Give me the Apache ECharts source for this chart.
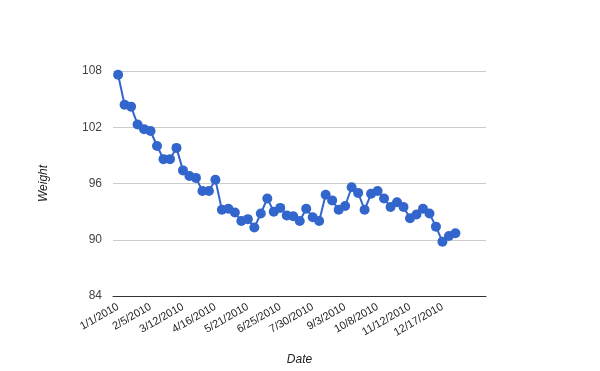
<!DOCTYPE html>
<html>
<head>
<meta charset="utf-8">
<script src="https://cdn.jsdelivr.net/npm/echarts@6/dist/echarts.min.js"></script>
<style>html,body{margin:0;padding:0;background:#fff}#c{width:600px;height:371px}</style>
</head>
<body>
<div id="c"></div>
<script>
var dates = ["1/1/2010","1/8/2010","1/15/2010","1/22/2010","1/29/2010","2/5/2010","2/12/2010","2/19/2010","2/26/2010","3/5/2010","3/12/2010","3/19/2010","3/26/2010","4/2/2010","4/9/2010","4/16/2010","4/23/2010","4/30/2010","5/7/2010","5/14/2010","5/21/2010","5/28/2010","6/4/2010","6/11/2010","6/18/2010","6/25/2010","7/2/2010","7/9/2010","7/16/2010","7/23/2010","7/30/2010","8/6/2010","8/13/2010","8/20/2010","8/27/2010","9/3/2010","9/10/2010","9/17/2010","9/24/2010","10/1/2010","10/8/2010","10/15/2010","10/22/2010","10/29/2010","11/5/2010","11/12/2010","11/19/2010","11/26/2010","12/3/2010","12/10/2010","12/17/2010","12/24/2010","12/31/2010"];
var weights = [107.6,104.4,104.2,102.3,101.8,101.6,100.0,98.6,98.6,99.8,97.4,96.8,96.6,95.2,95.2,96.4,93.2,93.3,92.9,92.0,92.2,91.3,92.8,94.4,93.0,93.4,92.6,92.5,92.0,93.3,92.4,92.0,94.8,94.2,93.2,93.6,95.6,95.0,93.2,94.9,95.2,94.4,93.5,94.0,93.5,92.3,92.7,93.3,92.8,91.4,89.8,90.4,90.7];
var xTickLabels = ["1/1/2010","2/5/2010","3/12/2010","4/16/2010","5/21/2010","6/25/2010","7/30/2010","9/3/2010","10/8/2010","11/12/2010","12/17/2010"];
var yTicks = [84,90,96,102,108];

var base = Date.UTC(2010,0,1);
function dayOf(s){var p=s.split('/');return (Date.UTC(+p[2],+p[0]-1,+p[1])-base)/86400000;}
function fmt(v){var d=new Date(base+Math.round(v)*86400000);return (d.getUTCMonth()+1)+'/'+d.getUTCDate()+'/'+d.getUTCFullYear();}
var seriesData = dates.map(function(d,i){return [dayOf(d), weights[i]];});
var chart = echarts.init(document.getElementById('c'));
chart.setOption({
  animation:false,
  grid:{left:113,right:114,top:71,bottom:70,containLabel:false},
  xAxis:{type:'value',min:-5.5,max:397,
    name:'Date',nameLocation:'middle',nameGap:58,
    nameTextStyle:{fontStyle:'italic',fontFamily:'Liberation Sans',fontSize:12,color:'#222'},
    axisLine:{show:true,lineStyle:{color:'#333',width:1}},
    axisTick:{show:false},splitLine:{show:false},
    axisLabel:{customValues:xTickLabels.map(dayOf),formatter:fmt,rotate:30,margin:10,
      fontFamily:'Liberation Sans',fontSize:11,color:'#222'}},
  yAxis:{type:'value',min:yTicks[0],max:yTicks[yTicks.length-1],interval:6,
    name:'Weight',nameLocation:'middle',nameGap:63,nameRotate:90,
    nameTextStyle:{fontStyle:'italic',fontFamily:'Liberation Sans',fontSize:12,color:'#222'},
    axisLine:{show:false},axisTick:{show:false},
    splitLine:{show:true,lineStyle:{color:'#ccc',width:1}},
    axisLabel:{margin:11,fontFamily:'Liberation Sans',fontSize:12,color:'#444'}},
  series:[{type:'line',data:seriesData,symbol:'circle',symbolSize:10,
    lineStyle:{color:'#3366cc',width:2},itemStyle:{color:'#3366cc'}}]
});
</script>
</body>
</html>
